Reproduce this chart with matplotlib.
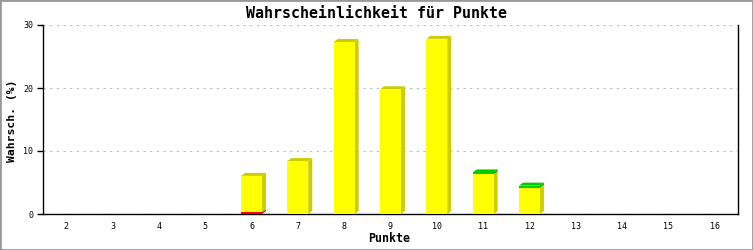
import matplotlib
matplotlib.use("Agg")
import matplotlib.pyplot as plt
from matplotlib.patches import Polygon, Rectangle

punkte = list(range(2, 17))
rot = [0, 0, 0, 0, 0.25, 0, 0, 0, 0, 0, 0, 0, 0, 0, 0]
gelb = [0, 0, 0, 0, 5.8, 8.4, 27.3, 19.8, 27.8, 6.3, 4.2, 0, 0, 0, 0]
gruen = [0, 0, 0, 0, 0, 0, 0, 0, 0, 0.3, 0.3, 0, 0, 0, 0]

series = [(rot, "#ff0000", "#c00000"),
          (gelb, "#ffff00", "#cccc00"),
          (gruen, "#00cc00", "#00a000")]

W, H = 753, 250
fig = plt.figure(figsize=(W / 100, H / 100), dpi=100)
ax = fig.add_axes([43 / W, 36 / H, (738 - 43) / W, (214 - 25) / H])

ax.set_xlim(1.5, 16.5)
ax.set_ylim(0, 30)

# pixel -> data conversions for 3D depth
px_x = (16.5 - 1.5) / (738 - 43)
px_y = 30 / (214 - 25)
dx, dy = 4 * px_x, 3 * px_y
bw = 0.45

for i, p in enumerate(punkte):
    base = 0.0
    segs = [(s[0][i], s[1], s[2]) for s in series if s[0][i] > 0]
    for k, (v, fc, sc) in enumerate(segs):
        x0, x1 = p - bw / 2, p + bw / 2
        b, t = base, base + v
        side = Polygon([(x1, b), (x1 + dx, b + dy), (x1 + dx, t + dy), (x1, t)],
                       closed=True, facecolor=sc, edgecolor="none", zorder=3)
        ax.add_patch(side)
        if k == len(segs) - 1:
            top = Polygon([(x0, t), (x0 + dx, t + dy), (x1 + dx, t + dy), (x1, t)],
                          closed=True, facecolor=sc if fc != "#00cc00" else fc,
                          edgecolor="none", zorder=3)
            ax.add_patch(top)
        ax.add_patch(Rectangle((x0, b), bw, v, facecolor=fc, edgecolor="none", zorder=4))
        base = t

ax.set_xticks(punkte)
ax.set_xticklabels([str(p) for p in punkte])
ax.set_yticks([0, 10, 20, 30])
ax.tick_params(axis="x", length=0, pad=6, labelsize=6)
ax.tick_params(axis="y", length=4, width=1, direction="out", pad=3, labelsize=6)
for lab in ax.get_xticklabels() + ax.get_yticklabels():
    lab.set_family("DejaVu Sans Mono")

ax.yaxis.grid(True, linestyle=(0, (2, 4)), color="#bbbbbb", linewidth=0.8)
ax.set_axisbelow(True)
ax.spines["top"].set_visible(False)
for s in ["left", "bottom", "right"]:
    ax.spines[s].set_linewidth(1)
    ax.spines[s].set_color("black")
ax.spines["bottom"].set_zorder(2)

fig.text(376 / W, 1 - 14 / H, "Wahrscheinlichkeit für Punkte", ha="center", va="center",
         family="DejaVu Sans Mono", fontweight="bold", fontsize=10.8)
fig.text(389 / W, 1 - 239 / H, "Punkte", ha="center", va="center",
         family="DejaVu Sans Mono", fontweight="bold", fontsize=8.4)
fig.text(12 / W, 1 - 121 / H, "Wahrsch. (%)", ha="center", va="center", rotation=90,
         family="DejaVu Sans Mono", fontweight="bold", fontsize=8.2)

fig.patches.append(Rectangle((0, 0), 1, 1, transform=fig.transFigure, fill=False,
                             edgecolor="#999999", linewidth=2))

fig.savefig("out.png", dpi=100)
